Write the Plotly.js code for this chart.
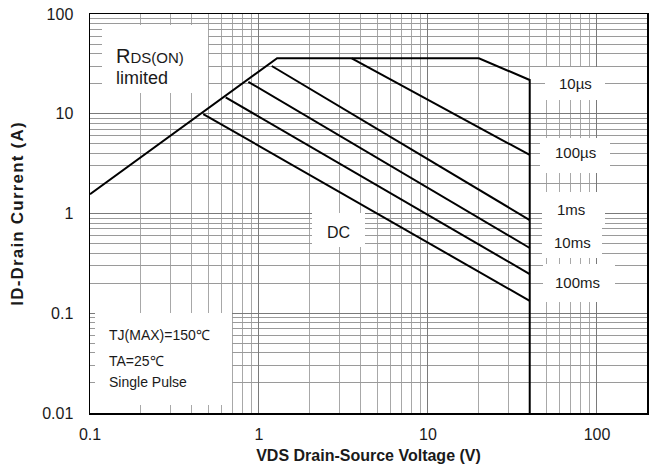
<!DOCTYPE html>
<html>
<head>
<meta charset="utf-8">
<script src="https://cdn.plot.ly/plotly-3.0.1.min.js"></script>
<style>html,body{margin:0;padding:0;background:#fff;}#chart{width:650px;height:472px;}</style>
</head>
<body>
<div id="chart"></div>
<script>
// ---- data ----
// Boundary: RDS(on) limit, current limit, power limit, BVDSS limit
const boundaryX = [0.1, 1.28, 20, 40, 40];
const boundaryY = [1.56, 36, 36, 21.8, 0.01];
// Pulse-width lines (start on boundary, end at VDS = 40 V)
const line10usX = [3.54, 40];   const line10usY = [36, 3.86];
const line100usX = [1.19, 40];  const line100usY = [30.1, 0.86];
const line1msX = [0.865, 40];   const line1msY = [20.9, 0.451];
const line10msX = [0.635, 40];  const line10msY = [14.6, 0.247];
const lineDCX = [0.468, 40];    const lineDCY = [9.94, 0.133];

const curveLabels = ['10µs', '100µs', '1ms', '10ms', '100ms', 'DC'];
const xTickVals = [0.1, 1, 10, 100];
const xTickText = ['0.1', '1', '10', '100'];
const yTickVals = [0.01, 0.1, 1, 10, 100];
const yTickText = ['0.01', '0.1', '1', '10', '100'];
const conditionText = ['TJ(MAX)=150℃', 'TA=25℃', 'Single Pulse'];

// minor grid positions (2..9 of each decade)
function minorVals(lo, hi) {
  const v = [];
  for (let e = lo; e < hi; e++) for (let m = 2; m <= 9; m++) v.push(m * Math.pow(10, e));
  return v;
}

// ---- layout helpers (pixel -> paper) ----
const W = 650, H = 472, L = 90, R = 3, T = 14, B = 59;
const PW = W - L - R, PH = H - T - B;
const px = X => (X - L) / PW;
const py = Y => (H - B - Y) / PH;

const lineStyle = {color: '#000', width: 2};
const traces = [
  {x: boundaryX, y: boundaryY},
  {x: line10usX, y: line10usY},
  {x: line100usX, y: line100usY},
  {x: line1msX, y: line1msY},
  {x: line10msX, y: line10msY},
  {x: lineDCX, y: lineDCY}
].map(t => Object.assign(t, {type: 'scatter', mode: 'lines', line: lineStyle, hoverinfo: 'skip', showlegend: false}));

// white label boxes [x0, y0, x1, y1] in pixels
const boxes = [
  [102, 25, 208, 93],
  [95, 313, 232, 405],
  [312, 213, 365, 247],
  [545, 67, 605, 100],
  [540, 138, 610, 173],
  [542, 192, 605, 225],
  [542, 225, 602, 258],
  [543, 264, 615, 302]
];
const shapes = boxes.map(b => ({
  type: 'rect', xref: 'paper', yref: 'paper', layer: 'above',
  x0: px(b[0]), x1: px(b[2]), y0: py(b[3]), y1: py(b[1]),
  fillcolor: '#fff', line: {width: 0}
}));

const font = 'Liberation Sans, Arial, sans-serif';
const txt = '#1a1a1a';
// label positions (pixels)
const labelPos = [[575, 83], [575, 152], [571, 209], [572, 242], [577, 282], [338, 232]];
const labelSize = [15, 15, 15, 15, 15, 16];
const annotations = curveLabels.map((s, i) => ({
  text: s, xref: 'paper', yref: 'paper', x: px(labelPos[i][0]), y: py(labelPos[i][1]),
  xanchor: 'center', yanchor: 'middle', showarrow: false,
  font: {family: font, size: labelSize[i], color: txt}
}));
annotations.push({
  text: 'R<span style="font-size:15px">DS(ON)</span>', xref: 'paper', yref: 'paper',
  x: px(114), y: py(56), xanchor: 'left', yanchor: 'middle', showarrow: false,
  font: {family: font, size: 20, color: txt}
});
annotations.push({
  text: 'limited', xref: 'paper', yref: 'paper',
  x: px(114), y: py(78), xanchor: 'left', yanchor: 'middle', showarrow: false,
  font: {family: font, size: 18, color: txt}
});
const condY = [335, 361, 382];
conditionText.forEach((s, i) => annotations.push({
  text: s, xref: 'paper', yref: 'paper', x: px(107), y: py(condY[i]),
  xanchor: 'left', yanchor: 'middle', showarrow: false,
  font: {family: font, size: 14, color: txt}
}));

const axisCommon = {
  type: 'log', showline: true, mirror: true, linecolor: '#000', linewidth: 1.5,
  ticks: '', showgrid: true, gridcolor: '#7a7a7a', gridwidth: 1, zeroline: false,
  tickfont: {family: font, size: 16, color: txt}
};

const layout = {
  width: W, height: H,
  margin: {l: L, r: R, t: T, b: B, pad: 0},
  paper_bgcolor: '#fff', plot_bgcolor: '#fff',
  showlegend: false,
  xaxis: Object.assign({}, axisCommon, {
    range: [-1, 2.296], ticklabelstandoff: 6,
    tickmode: 'array', tickvals: xTickVals, ticktext: xTickText,
    minor: {tickmode: 'array', tickvals: minorVals(-1, 3), showgrid: true, gridcolor: '#a8a8a8', gridwidth: 1, ticks: ''},
    title: {text: 'VDS Drain-Source Voltage (V)', font: {family: font, size: 16, color: txt, weight: 'bold'}, standoff: 8}
  }),
  yaxis: Object.assign({}, axisCommon, {
    range: [-2, 2], ticklabelstandoff: 12,
    tickmode: 'array', tickvals: yTickVals, ticktext: yTickText,
    minor: {tickmode: 'array', tickvals: minorVals(-2, 2), showgrid: true, gridcolor: '#9a9a9a', gridwidth: 1, ticks: ''},
    title: {text: '<span style="letter-spacing:1.2px">ID-Drain Current (A)</span>', font: {family: font, size: 17, color: txt, weight: 'bold'}, standoff: 14}
  }),
  shapes: shapes,
  annotations: annotations
};

Plotly.newPlot('chart', traces, layout, {staticPlot: true, displayModeBar: false});
</script>
</body>
</html>
